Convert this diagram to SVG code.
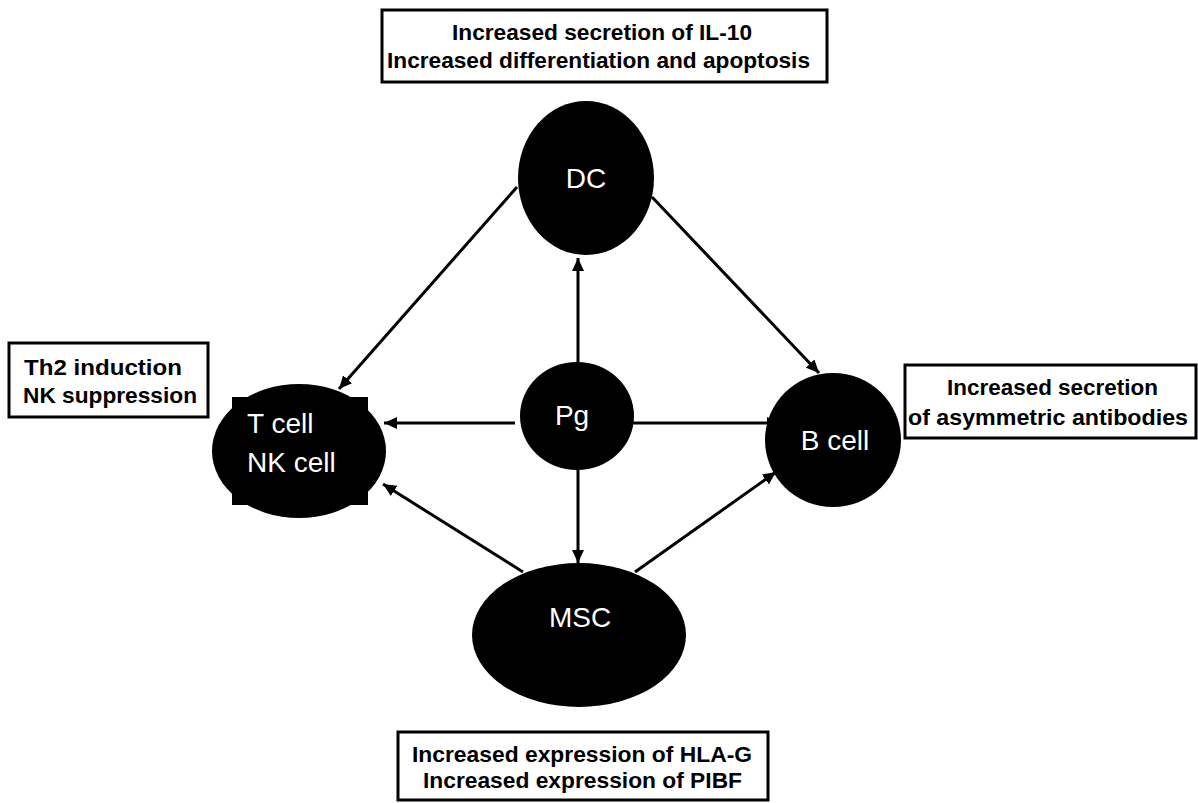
<svg xmlns="http://www.w3.org/2000/svg" width="1198" height="803" viewBox="0 0 1198 803">
<style>
.node{fill:#000}
.nt{fill:#fff;font-family:"Liberation Sans",Arial,sans-serif;font-size:28px}
.box{fill:#fff;stroke:#000;stroke-width:3}
.bt{fill:#000;font-family:"Liberation Sans",Arial,sans-serif;font-size:22px;font-weight:bold}
.c{stroke:#000;stroke-width:3;fill:none;marker-end:url(#ah)}
</style>
<defs>
<marker id="ah" markerUnits="userSpaceOnUse" markerWidth="14" markerHeight="12" refX="13" refY="6" orient="auto">
<path d="M0,0 L13,6 L0,12 Z" fill="#000"/>
</marker>
</defs>
<rect width="1198" height="803" fill="#fff"/>
<g id="connectors">
<line class="c" x1="517" y1="187" x2="339" y2="389"/>
<line class="c" x1="652" y1="197" x2="819" y2="373"/>
<line class="c" x1="578" y1="362" x2="578" y2="258"/>
<line class="c" x1="515" y1="423" x2="384" y2="423"/>
<line class="c" x1="630" y1="423" x2="780" y2="423"/>
<line class="c" x1="578" y1="470" x2="578" y2="563"/>
<line class="c" x1="523" y1="572" x2="383" y2="484"/>
<line class="c" x1="635" y1="572" x2="776" y2="472"/>
</g>
<g id="dc">
<ellipse class="node" cx="586" cy="178" rx="68" ry="77"/>
<text class="nt" x="586" y="188" text-anchor="middle">DC</text>
</g>
<g id="pg">
<ellipse class="node" cx="577" cy="416" rx="57" ry="54"/>
<text class="nt" x="572" y="425" text-anchor="middle">Pg</text>
</g>
<g id="tcell">
<rect class="node" x="232" y="397" width="136" height="108"/>
<ellipse class="node" cx="299" cy="451" rx="87" ry="67"/>
<text class="nt" x="247" y="433">T cell</text>
<text class="nt" x="247" y="472">NK cell</text>
</g>
<g id="bcell">
<ellipse class="node" cx="833" cy="440" rx="68" ry="67"/>
<text class="nt" x="835" y="450" text-anchor="middle">B cell</text>
</g>
<g id="msc">
<ellipse class="node" cx="579" cy="635" rx="107" ry="72"/>
<text class="nt" x="580" y="627" text-anchor="middle">MSC</text>
</g>
<g id="box-top">
<rect class="box" x="382" y="10" width="445" height="72"/>
<text class="bt" x="452" y="40" textLength="300" lengthAdjust="spacingAndGlyphs">Increased secretion of IL-10</text>
<text class="bt" x="387" y="68" textLength="423" lengthAdjust="spacingAndGlyphs">Increased differentiation and apoptosis</text>
</g>
<g id="box-left">
<rect class="box" x="9" y="343" width="199" height="74"/>
<text class="bt" x="24" y="375" textLength="158" lengthAdjust="spacingAndGlyphs">Th2 induction</text>
<text class="bt" x="23" y="403" textLength="174" lengthAdjust="spacingAndGlyphs">NK suppression</text>
</g>
<g id="box-right">
<rect class="box" x="905" y="365" width="291" height="73"/>
<text class="bt" x="947" y="395" textLength="211" lengthAdjust="spacingAndGlyphs">Increased secretion</text>
<text class="bt" x="908" y="425" textLength="280" lengthAdjust="spacingAndGlyphs">of asymmetric antibodies</text>
</g>
<g id="box-bottom">
<rect class="box" x="398" y="732" width="370" height="68"/>
<text class="bt" x="412" y="762" textLength="340" lengthAdjust="spacingAndGlyphs">Increased expression of HLA-G</text>
<text class="bt" x="423" y="788" textLength="319" lengthAdjust="spacingAndGlyphs">Increased expression of PIBF</text>
</g>
</svg>
